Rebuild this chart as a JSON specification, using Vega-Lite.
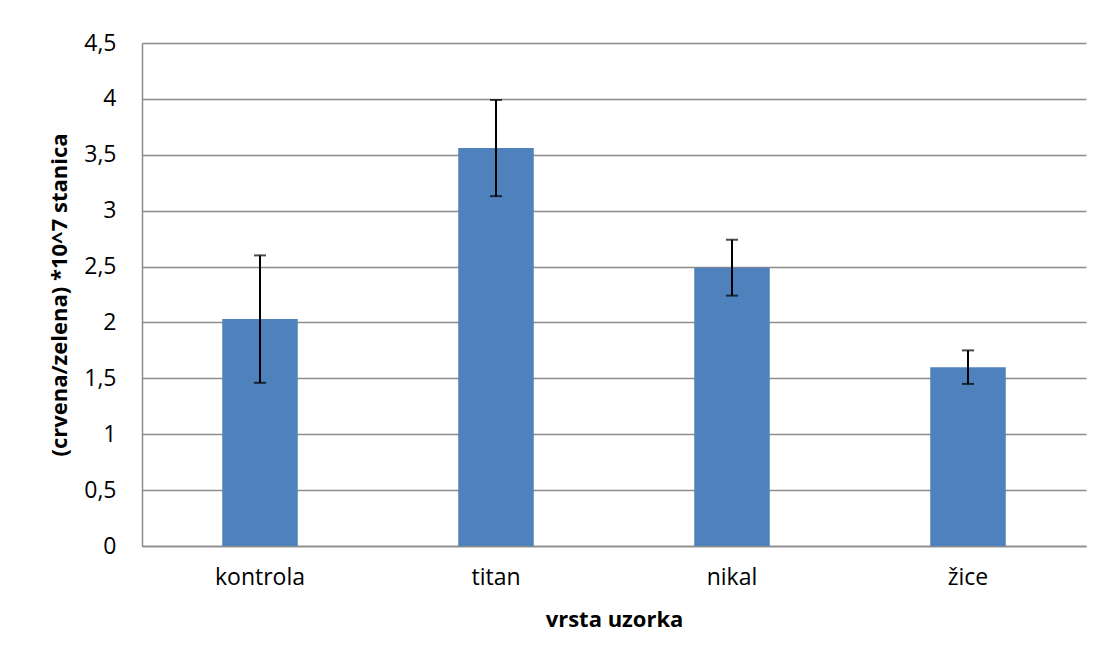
{
  "$schema": "https://vega.github.io/schema/vega-lite/v6.json",
  "width": 944,
  "height": 503,
  "autosize": {"type": "none"},
  "padding": {"left": 142, "top": 43, "right": 18, "bottom": 115},
  "background": "white",
  "config": {
    "view": {"stroke": null},
    "font": "Open Sans",
    "axis": {"labelFont": "Open Sans", "titleFont": "Open Sans", "labelColor": "#000000", "titleColor": "#000000"}
  },
  "data": {
    "values": [
      {"vrsta": "kontrola", "vrijednost": 2.03, "donja": 1.46, "gornja": 2.60},
      {"vrsta": "titan", "vrijednost": 3.56, "donja": 3.13, "gornja": 3.99},
      {"vrsta": "nikal", "vrijednost": 2.49, "donja": 2.24, "gornja": 2.74},
      {"vrsta": "žice", "vrijednost": 1.60, "donja": 1.45, "gornja": 1.75}
    ]
  },
  "encoding": {
    "x": {
      "field": "vrsta",
      "type": "nominal",
      "sort": null,
      "scale": {"paddingInner": 0, "paddingOuter": 0},
      "axis": {
        "title": "vrsta uzorka",
        "titleFontSize": 22,
        "titleFontWeight": "bold",
        "titlePadding": 20,
        "labelAngle": 0,
        "labelFontSize": 23,
        "labelPadding": 20,
        "ticks": false,
        "domainColor": "#8c8c8c",
        "domainWidth": 1.5,
        "grid": false
      }
    }
  },
  "layer": [
    {
      "mark": {"type": "bar", "color": "#4F81BD", "width": {"band": 0.32}},
      "encoding": {
        "y": {
          "field": "vrijednost",
          "type": "quantitative",
          "scale": {"domain": [0, 4.5], "nice": false},
          "axis": {
            "title": "(crvena/zelena) *10^7 stanica",
            "titleFontSize": 22,
            "titleFontWeight": "bold",
            "titlePadding": 12,
            "values": [0, 0.5, 1, 1.5, 2, 2.5, 3, 3.5, 4, 4.5],
            "labelExpr": "replace(toString(datum.value), '.', ',')",
            "labelFontSize": 23,
            "labelPadding": 26,
            "ticks": false,
            "domainColor": "#8c8c8c",
            "domainWidth": 1.5,
            "gridColor": "#8c8c8c",
            "gridWidth": 1.5
          }
        }
      }
    },
    {
      "mark": {"type": "rule", "color": "black", "strokeWidth": 2},
      "encoding": {
        "y": {"field": "donja", "type": "quantitative"},
        "y2": {"field": "gornja"}
      }
    },
    {
      "mark": {"type": "tick", "color": "black", "thickness": 2, "size": 12},
      "encoding": {"y": {"field": "donja", "type": "quantitative"}}
    },
    {
      "mark": {"type": "tick", "color": "black", "thickness": 2, "size": 12},
      "encoding": {"y": {"field": "gornja", "type": "quantitative"}}
    }
  ]
}
